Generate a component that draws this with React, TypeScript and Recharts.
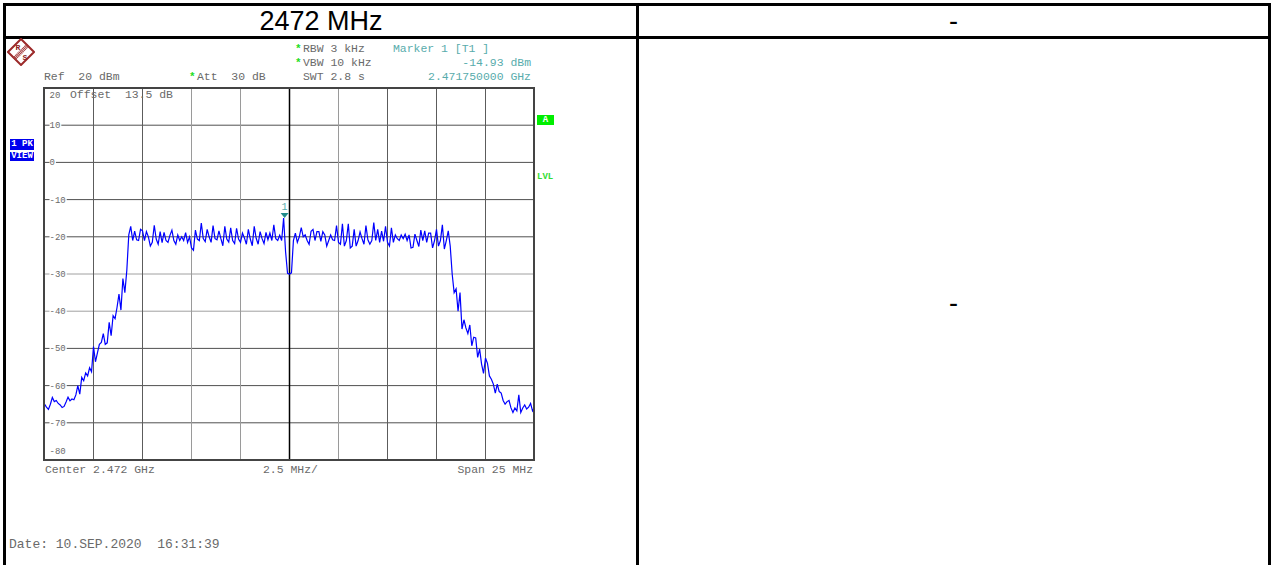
import { Line, LineChart, ReferenceDot, ReferenceLine, XAxis, YAxis } from "recharts";

const startMHz = 2459.5;
const stopMHz = 2484.5;
const sweepStepMHz = 0.1;

// Trace level in dBm, one reading per sweep step.
const traceLevels = [
  -65, -65.8, -66.4, -65, -63.2, -64.3, -64, -64.8, -65.2, -65.9,
  -65.6, -64.4, -63.1, -64.1, -63.6, -63.8, -62.5, -60, -62.3, -57.8,
  -58.7, -56.6, -57.4, -55.2, -56.3, -49.5, -53.6, -51.2, -48.9, -48.4,
  -46, -48.9, -48.5, -43, -46.6, -41.2, -42, -39, -35.4, -39.7,
  -31.2, -35, -29, -19.5, -17.2, -21, -18.5, -20.8, -21, -18,
  -18.4, -21, -18.6, -20, -22.5, -21.5, -16.9, -20.6, -22, -18.6,
  -21.6, -18.8, -21, -21.5, -19.6, -18.2, -21, -22, -19.5, -21,
  -20, -21, -18.9, -21.5, -20, -23, -23.6, -18.2, -20.6, -21,
  -16.3, -20.5, -21.3, -18, -20, -21.5, -17, -20.5, -20.8, -18.4,
  -20.5, -22.4, -17.2, -20.6, -21.4, -17.6, -21, -21.8, -17.7, -20.6,
  -21.5, -19, -20.3, -22, -18, -20.6, -22.4, -17.2, -20.4, -22,
  -18.6, -20.5, -21.8, -18.8, -20.8, -19, -21, -16.8, -20.5, -21,
  -19.6, -21, -14.93, -24, -29.8, -30, -29.7, -21, -19, -21.5,
  -20, -17.5, -20, -19.5, -21, -22, -18.5, -18, -21, -18.6,
  -18.6, -21.2, -18.6, -19.5, -22.5, -21, -19.5, -20.8, -21, -17,
  -21.5, -22, -16.5, -22.5, -21, -16.5, -23, -22.5, -18, -22.5,
  -21, -18.7, -20.5, -22, -17, -20.8, -22, -21, -16.2, -21,
  -18, -21.5, -18.5, -21.2, -17.2, -21.5, -22.5, -17.6, -21.5, -19.5,
  -20.5, -21, -19.5, -20.5, -19.3, -21, -19.5, -23, -22.8, -19.3,
  -21, -22.6, -18.2, -21, -18.4, -21.5, -19, -19, -23, -21,
  -18, -22.5, -21, -16.8, -23.3, -21, -18.4, -22.5, -30, -35,
  -34, -40, -35, -44.8, -42.3, -44.5, -46, -43.7, -49.3, -47,
  -47.2, -52.4, -50.2, -54.2, -56.7, -52.6, -54, -57.4, -58.3, -59.6,
  -62, -59.6, -61.6, -62, -64, -65, -64.3, -64, -66, -67.2,
  -66, -66.8, -62.5, -67.2, -66, -65.2, -66.3, -65.8, -64.8, -66.8, -65.8,
];

const levelTicks = [20, 10, 0, -10, -20, -30, -40, -50, -60, -70, -80];
const gridLevels = [10, 0, -10, -20, -30, -40, -50, -60, -70];
const fadedLevels = [-30, -40];
const gridFreqs = [2462, 2464.5, 2467, 2469.5, 2472, 2474.5, 2477, 2479.5, 2482];
const fadedFreqs = [2467, 2469.5, 2474.5];
const centerFreq = 2472;
const markerFreq = 2471.75;
const markerLevel = -14.93;

const chartData = traceLevels.map((level, i) => ({
  freq: startMHz + i * sweepStepMHz,
  level,
}));

const MONO = '"Liberation Mono", monospace';
const GREY = "#6a6a6a";
const TEAL = "#58acac";

// dBm labels sit inside the plot; the top and bottom ones are nudged off the frame
function LevelTick(props: { x?: number; y?: number; payload?: { value: number } }) {
  const { x = 0, y = 0, payload } = props;
  if (payload == null) return null;
  const value = payload.value;
  const dy = value === 20 ? 7 : value === -80 ? -9 : 0;
  const label = String(value);
  const width = label.length * 5.4;
  return (
    <g>
      {dy === 0 && <rect x={x} y={y - 4} width={width + 1} height={8} fill="#fff" />}
      <text x={x} y={y + dy + 3} fontFamily={MONO} fontSize={9} fill={GREY}>
        {label}
      </text>
    </g>
  );
}

function MarkerShape(props: { cx?: number; cy?: number }) {
  const { cx = 0, cy = 0 } = props;
  return (
    <g>
      <polygon points={`${cx - 4},${cy - 5} ${cx + 4},${cy - 5} ${cx},${cy}`} fill="#1f8a8a" />
      <text x={cx} y={cy - 8} textAnchor="middle" fontFamily={MONO} fontSize={10} fill={TEAL}>
        1
      </text>
    </g>
  );
}

function Note(props: {
  left?: number;
  right?: number;
  top: number;
  size?: number;
  color?: string;
  children: React.ReactNode;
}) {
  const { left, right, top, size = 11.45, color = GREY, children } = props;
  return (
    <div
      style={{
        position: "absolute",
        left,
        right,
        top,
        fontFamily: MONO,
        fontSize: size,
        lineHeight: "12px",
        color,
        whiteSpace: "pre",
      }}
    >
      {children}
    </div>
  );
}

function Star({ left, top }: { left: number; top: number }) {
  return (
    <div
      style={{
        position: "absolute",
        left,
        top,
        fontFamily: MONO,
        fontSize: 11,
        fontWeight: "bold",
        lineHeight: "12px",
        color: "#22dd22",
      }}
    >
      *
    </div>
  );
}

function Rule({ left, top, width, height }: { left: number; top: number; width: number; height: number }) {
  return <div style={{ position: "absolute", left, top, width, height, background: "#000" }} />;
}

function Heading({ left, width, top, size, children }: { left: number; width: number; top: number; size: number; children: React.ReactNode }) {
  return (
    <div
      style={{
        position: "absolute",
        left,
        width,
        top,
        textAlign: "center",
        fontFamily: '"Liberation Sans", sans-serif',
        fontSize: size,
        lineHeight: "32px",
        color: "#000",
      }}
    >
      {children}
    </div>
  );
}

function Logo() {
  return (
    <svg style={{ position: "absolute", left: 7, top: 38 }} width={28} height={28}>
      <polygon points="14,1 27,14 14,27 1,14" fill="#fff" stroke="#9c2a2a" strokeWidth={2} />
      <line x1={7} y1={21} x2={21} y2={7} stroke="#a33a3a" strokeWidth={4} strokeDasharray="1 0.6" />
      <text x={11} y={12} fontFamily={MONO} fontSize={8} fontWeight="bold" fill="#8e2020" textAnchor="middle">R</text>
      <text x={18} y={22} fontFamily={MONO} fontSize={8} fontWeight="bold" fill="#8e2020" textAnchor="middle">S</text>
    </svg>
  );
}

export default function App() {
  return (
    <div style={{ position: "absolute", left: 0, top: 0, width: 1271, height: 565, overflow: "hidden", background: "#fff" }}>
      <LineChart
        width={1271}
        height={565}
        data={chartData}
        margin={{ top: 88, right: 736.5, bottom: 105, left: 44.5 }}
      >
        <XAxis
          dataKey="freq"
          type="number"
          domain={[startMHz, stopMHz]}
          hide
          height={0}
        />
        <YAxis
          type="number"
          domain={[-80, 20]}
          ticks={levelTicks}
          interval={0}
          mirror
          axisLine={false}
          tickLine={false}
          tickSize={0}
          tickMargin={5}
          width={1}
          tick={LevelTick as any}
        />
        {gridLevels.map((level) => (
          <ReferenceLine
            key={level}
            y={level}
            stroke={fadedLevels.includes(level) ? "#a0a0a0" : "#505050"}
            strokeWidth={1}
          />
        ))}
        {gridFreqs.map((freq) => (
          <ReferenceLine
            key={freq}
            x={freq}
            stroke={freq === centerFreq ? "#000" : fadedFreqs.includes(freq) ? "#9a9a9a" : "#5c5c5c"}
            strokeWidth={freq === centerFreq ? 1.5 : 1}
          />
        ))}
        <Line
          dataKey="level"
          stroke="#0000ff"
          strokeWidth={1.2}
          dot={false}
          isAnimationActive={false}
        />
        <ReferenceDot x={markerFreq} y={markerLevel} shape={MarkerShape as any} />
      </LineChart>

      {/* analyzer frame */}
      <div style={{ position: "absolute", left: 43, top: 87, width: 492, height: 374, border: "2px solid #444", boxSizing: "border-box" }} />

      {/* table rules */}
      <Rule left={3} top={3} width={1268} height={3} />
      <Rule left={3} top={36} width={1268} height={3} />
      <Rule left={3} top={3} width={3} height={562} />
      <Rule left={636} top={3} width={3} height={562} />
      <Rule left={1268} top={3} width={3} height={562} />

      <Heading left={6} width={630} top={5} size={27}>2472 MHz</Heading>
      <Heading left={639} width={629} top={5} size={27}>-</Heading>
      <Heading left={639} width={629} top={287} size={27}>-</Heading>

      <Logo />

      <Star left={295} top={43} />
      <Note left={303} top={43}>RBW 3 kHz</Note>
      <Star left={295} top={57} />
      <Note left={303} top={57}>VBW 10 kHz</Note>
      <Note left={303} top={71}>SWT 2.8 s</Note>
      <Note left={393} top={43} color={TEAL}>Marker 1 [T1 ]</Note>
      <Note right={740} top={57} color={TEAL}>-14.93 dBm</Note>
      <Note right={740} top={71} color={TEAL}>2.471750000 GHz</Note>
      <Note left={44} top={71}>Ref  20 dBm</Note>
      <Star left={189} top={71} />
      <Note left={197} top={71}>Att  30 dB</Note>
      <Note left={70} top={89}>Offset  13.5 dB</Note>

      <Note left={45} top={464}>Center 2.472 GHz</Note>
      <Note left={263} top={464}>2.5 MHz/</Note>
      <Note right={738} top={464}>Span 25 MHz</Note>
      <Note left={9} top={539} size={13}>Date: 10.SEP.2020  16:31:39</Note>

      {/* trace and limit badges */}
      <div style={{ position: "absolute", left: 10, top: 139, width: 24, height: 11, background: "#0000ee", color: "#fff", fontFamily: MONO, fontSize: 9, fontWeight: "bold", lineHeight: "11px", textAlign: "center", whiteSpace: "pre" }}>1 PK</div>
      <div style={{ position: "absolute", left: 10, top: 152, width: 24, height: 9, background: "#0000ee", color: "#fff", fontFamily: MONO, fontSize: 9, fontWeight: "bold", lineHeight: "9px", textAlign: "center" }}>VIEW</div>
      <div style={{ position: "absolute", left: 537, top: 115, width: 17, height: 10, background: "#00ee00", color: "#fff", fontFamily: MONO, fontSize: 9, fontWeight: "bold", lineHeight: "10px", textAlign: "center" }}>A</div>
      <div style={{ position: "absolute", left: 537, top: 172, fontFamily: MONO, fontSize: 9, fontWeight: "bold", lineHeight: "10px", color: "#33dd33" }}>LVL</div>
    </div>
  );
}
